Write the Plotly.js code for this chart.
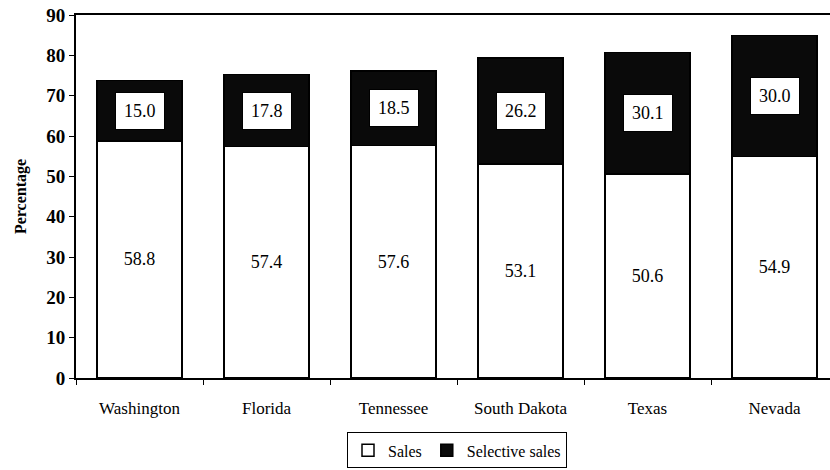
<!DOCTYPE html>
<html>
<head>
<meta charset="utf-8">
<script src="https://cdn.plot.ly/plotly-3.0.1.min.js"></script>
<style>
html,body{margin:0;padding:0;overflow:hidden;background:#fff}
</style>
</head>
<body>
<div id="plot" style="width:840px;height:470px"></div>
<script>
// state shares, percent
const states=["Washington","Florida","Tennessee","South Dakota","Texas","Nevada"]
const sales=[58.8,57.4,57.6,53.1,50.6,54.9]
const selective=[15.0,17.8,18.5,26.2,30.1,30.0]

const serif="Liberation Serif, Times New Roman, serif"

let trace1={x:states,y:sales,name:"Sales",type:"bar",
  marker:{color:"#ffffff",line:{color:"#000",width:1.5}},
  text:sales.map(v=>v.toFixed(1)),textposition:"inside",insidetextanchor:"middle",
  textangle:0,textfont:{family:serif,size:18,color:"#000"},hoverinfo:"skip"}
let trace2={x:states,y:selective,name:"Selective sales",type:"bar",
  marker:{color:"#0a0a0a",line:{color:"#000",width:1.5}},hoverinfo:"skip"}

// white boxed labels in the middle of each dark segment
let notes=states.map((s,i)=>({
  x:s,y:sales[i]+selective[i]/2,text:selective[i].toFixed(1),showarrow:false,
  font:{family:serif,size:18,color:"#000"},bgcolor:"#fff",bordercolor:"#000",
  borderwidth:1,borderpad:8
}))

let layout={
  width:840,height:470,barmode:"stack",bargap:0.33,
  margin:{l:76,r:2,t:15,b:83},
  paper_bgcolor:"#fff",plot_bgcolor:"#fff",
  font:{family:serif,color:"#000"},
  xaxis:{type:"category",showline:true,linecolor:"#000",linewidth:2,mirror:true,
    ticks:"outside",tickson:"boundaries",ticklen:5,tickcolor:"#000",automargin:false,
    tickfont:{family:serif,size:17},ticklabelstandoff:14,showgrid:false},
  yaxis:{range:[0,90],dtick:10,showline:true,linecolor:"#000",linewidth:2,mirror:true,
    ticks:"outside",ticklen:5,tickcolor:"#000",showgrid:false,zeroline:false,automargin:false,
    tickfont:{family:serif,size:19,weight:"bold"},
    title:{text:"Percentage",font:{family:serif,size:16,weight:"bold"},standoff:16}},
  showlegend:true,
  legend:{orientation:"h",x:0.5,xanchor:"center",y:-0.15,yanchor:"top",
    bordercolor:"#000",borderwidth:1,font:{family:serif,size:16},
    itemwidth:30,traceorder:"normal"},
  annotations:notes
}

Plotly.newPlot("plot",[trace1,trace2],layout,{displayModeBar:false,staticPlot:true})
</script>
</body>
</html>
